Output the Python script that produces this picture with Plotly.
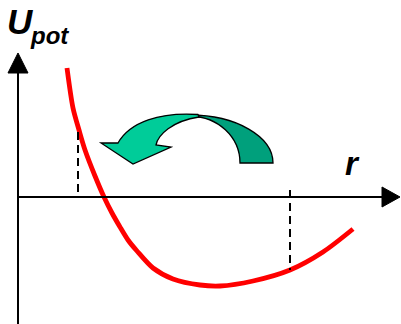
import plotly.graph_objects as go

W, H = 401, 324

# Potential energy curve (arbitrary units; r along x axis, U_pot along y axis)
r_vals = [4.9, 5.5, 6.1, 6.7, 7.7, 8.6, 9.4, 10.2, 11.0, 11.9, 13.5, 15.5, 18.2, 20.2, 23.5, 27.2, 30.5, 33.5]
u_vals = [12.9, 8.9, 6.7, 4.7, 2.1, 0.0, -1.6, -3.0, -4.3, -5.4, -7.1, -8.2, -8.8, -8.9, -8.4, -7.3, -5.5, -3.2]

# Turning points marked by dashed lines
turn_r = [6.0, 27.2]
turn_u_low = [0.0, -7.3]
turn_u_high = [6.5, 0.7]

x_range = [-1.8, 38.3]
y_range = [-12.7, 19.7]


def px(x):
    return x / W


def py(y):
    return 1 - y / H


def path(cmds):
    out = []
    for c in cmds:
        if isinstance(c, str):
            out.append(c)
        else:
            out.append(f"{px(c[0]):.5f},{py(c[1]):.5f}")
    return " ".join(out)


fig = go.Figure()

fig.add_trace(go.Scatter(x=r_vals, y=u_vals, mode="lines",
                         line=dict(color="#FF0000", width=4.8, shape="spline", smoothing=0.8),
                         hoverinfo="skip"))

for i in range(len(turn_r)):
    fig.add_trace(go.Scatter(x=[turn_r[i], turn_r[i]], y=[turn_u_high[i], turn_u_low[i]], mode="lines",
                             line=dict(color="black", width=2, dash="8px,5px"), hoverinfo="skip"))

shapes = []
# axes lines
shapes.append(dict(type="line", xref="paper", yref="paper", x0=px(18), x1=px(18), y0=py(330), y1=py(72),
                   line=dict(color="black", width=2)))
shapes.append(dict(type="line", xref="paper", yref="paper", x0=px(18), x1=px(384), y0=py(197), y1=py(197),
                   line=dict(color="black", width=2)))
# arrowheads
shapes.append(dict(type="path", xref="paper", yref="paper",
                   path=path(["M", (18, 53), "L", (28, 73), "L", (8, 73), "Z"]),
                   fillcolor="black", line=dict(color="black", width=1)))
shapes.append(dict(type="path", xref="paper", yref="paper",
                   path=path(["M", (400, 197), "L", (382, 187), "L", (382, 207), "Z"]),
                   fillcolor="black", line=dict(color="black", width=1)))
# curved arrow: dark back part
shapes.append(dict(type="path", xref="paper", yref="paper",
                   path=path(["M", (190, 115), "C", (236, 115), (273, 136.5), (273, 163),
                              "L", (240, 163), "C", (240, 137), (217.6, 116), (190, 116.5), "Z"]),
                   fillcolor="#00A07C", line=dict(color="black", width=1.3)))
# curved arrow: light front part with head
shapes.append(dict(type="path", xref="paper", yref="paper",
                   path=path(["M", (198, 114.5), "C", (160, 112), (130, 122), (118, 143),
                              "L", (101, 143), "L", (133, 164), "L", (171, 147), "L", (156, 145),
                              "C", (158, 135), (172, 121), (199, 117), "Z"]),
                   fillcolor="#00CC99", line=dict(color="black", width=1.3)))

annotations = [
    dict(text="<b><i>U</i></b>", xref="paper", yref="paper", x=px(6), y=py(21.5),
         xanchor="left", yanchor="middle", showarrow=False, borderpad=0,
         font=dict(family="Arial, Liberation Sans", size=35, color="black")),
    dict(text="<b><i>pot</i></b>", xref="paper", yref="paper", x=px(29), y=py(35.7),
         xanchor="left", yanchor="middle", showarrow=False, borderpad=0,
         font=dict(family="Arial, Liberation Sans", size=24, color="black")),
    dict(text="<b><i>r</i></b>", xref="paper", yref="paper", x=px(352), y=py(163.6),
         xanchor="center", yanchor="middle", showarrow=False,
         font=dict(family="Arial, Liberation Sans", size=33, color="black")),
]

fig.update_layout(
    width=W, height=H,
    margin=dict(l=0, r=0, t=0, b=0),
    paper_bgcolor="white", plot_bgcolor="white",
    showlegend=False,
    hovermode=False,
    xaxis=dict(range=x_range, visible=False, fixedrange=True),
    yaxis=dict(range=y_range, visible=False, fixedrange=True),
    shapes=shapes,
    annotations=annotations,
)

fig.write_html("out.html", config={"displayModeBar": False, "staticPlot": True},
               post_script="document.body.style.margin='0';")
